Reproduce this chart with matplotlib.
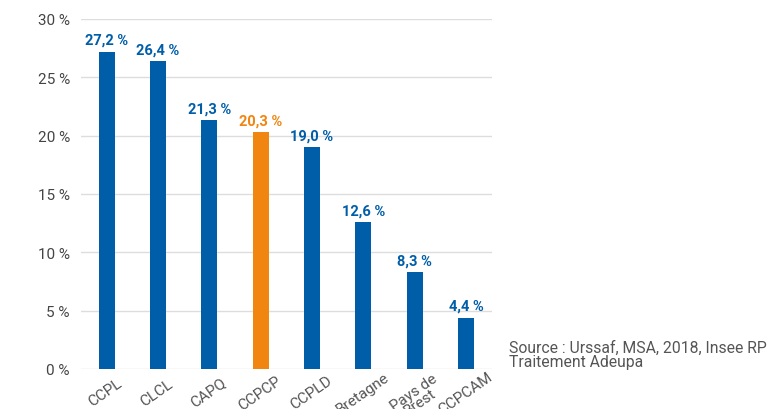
import matplotlib
matplotlib.use("Agg")
import matplotlib.pyplot as plt
import matplotlib.transforms as mtransforms

categories = ["CCPL", "CLCL", "CAPQ", "CCPCP", "CCPLD", "Bretagne", "Pays de\nBrest", "CCPCAM"]
values = [27.2, 26.4, 21.3, 20.3, 19.0, 12.6, 8.3, 4.4]
highlight = "CCPCP"
yticks = [0, 5, 10, 15, 20, 25, 30]

BLUE = "#005da8"
ORANGE = "#f0860f"

plt.rcParams["font.family"] = ["Roboto", "DejaVu Sans"]

fig = plt.figure(figsize=(7.78, 4.10), dpi=100)
ax = fig.add_axes([0.104, 0.0976, 0.528, 0.8537])

colors = [ORANGE if c == highlight else BLUE for c in categories]
x = range(len(categories))
ax.bar(x, values, width=0.31, color=colors, zorder=3)

for xi, v, col in zip(x, values, colors):
    ax.text(xi, v + 0.4, f"{v:.1f} %".replace(".", ","), ha="center", va="bottom",
            color=col, fontsize=10.5, fontweight="bold")

ax.set_xlim(-0.5, len(categories) - 0.5)
ax.set_ylim(0, 30)
ax.set_yticks(yticks)
ax.set_yticklabels([f"{t} %" for t in yticks], color="#444444", fontsize=11)
ax.set_xticks(list(x))
ax.set_xticklabels(categories, rotation=35, ha="center", va="top", rotation_mode="anchor",
                   color="#555555", fontsize=11, linespacing=0.75)
ax.grid(axis="y", color="#dddddd", linewidth=1, zorder=0)
for s in ["top", "right", "left", "bottom"]:
    ax.spines[s].set_visible(False)
ax.tick_params(axis="both", length=0)
ax.tick_params(axis="y", pad=8)
ax.tick_params(axis="x", pad=12)

# nudge the rotated labels a bit left, like the original
shift = mtransforms.ScaledTranslation(-5 / 100, -1 / 100, fig.dpi_scale_trans)
for lbl in ax.get_xticklabels():
    lbl.set_transform(lbl.get_transform() + shift)

fig.text(0.654, 0.098, "Source : Urssaf, MSA, 2018, Insee RP\nTraitement Adeupa",
         color="#555555", fontsize=11.3, va="bottom", ha="left", linespacing=0.95)

fig.savefig("out.png", dpi=100)
